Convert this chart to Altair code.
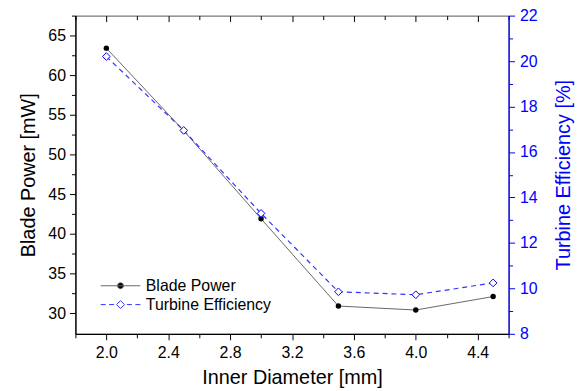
import altair as alt
import pandas as pd

# ---- data ----
diameter = [2.0, 2.5, 3.0, 3.5, 4.0, 4.5]
blade_power = [63.4, 53.0, 41.9, 30.9, 30.4, 32.1]
efficiency = [20.2, 16.95, 13.3, 9.85, 9.72, 10.24]
series_names = ["Blade Power", "Turbine Efficiency"]

x_major = [2.0, 2.4, 2.8, 3.2, 3.6, 4.0, 4.4]
x_minor = [1.8, 2.2, 2.6, 3.0, 3.4, 3.8, 4.2, 4.6]
left_major = [30, 35, 40, 45, 50, 55, 60, 65]
left_minor = [32.5, 37.5, 42.5, 47.5, 52.5, 57.5, 62.5, 67.5]
right_major = [8, 10, 12, 14, 16, 18, 20, 22]
right_minor = [9, 11, 13, 15, 17, 19, 21]

df = pd.DataFrame({"d": diameter, "p": blade_power, "e": efficiency})
df_b = df.assign(series=series_names[0])
df_e = df.assign(series=series_names[1])

FONT = "Liberation Sans"
BLUE = "#0000ff"
LINE_BLUE = "#3333ff"
GRAY = "#666666"

xscale = alt.Scale(domain=[1.8, 4.6], nice=False, zero=False)
yl = alt.Scale(domain=[27.4, 67.5], nice=False, zero=False)
yr = alt.Scale(domain=[8, 22], nice=False, zero=False)

MAJ = 6
MIN = 4

# ---- axes ----
x_bottom_major = alt.Axis(orient="bottom", values=x_major, format=".1f", tickSize=MAJ, tickWidth=1,
                          labelFont=FONT, labelFontSize=16, labelColor="black", labelPadding=5,
                          labelFlush=False, labelOverlap=False,
                          title="Inner Diameter [mm]", titleFont=FONT, titleFontSize=20,
                          titleFontWeight="normal", titleColor="black", titlePadding=7,
                          domainColor="black", domainWidth=1.3, tickColor="black", grid=False)
x_bottom_minor = alt.Axis(orient="bottom", values=x_minor, tickSize=MIN, tickWidth=1, labels=False,
                          title=None, domain=False, tickColor="black", grid=False)
x_top_major = alt.Axis(orient="top", values=x_major, tickSize=MAJ, tickWidth=1, offset=-MAJ, labels=False,
                       domain=False, title=None, tickColor="black", grid=False)
x_top_minor = alt.Axis(orient="top", values=x_minor, tickSize=MIN, tickWidth=1, offset=-MIN, labels=False,
                       domain=False, title=None, tickColor="black", grid=False)

y_left_major = alt.Axis(orient="left", values=left_major, format="d", tickSize=MAJ, tickWidth=1,
                        labelFont=FONT, labelFontSize=16, labelColor="black", labelPadding=4,
                        labelFlush=False, labelOverlap=False,
                        title="Blade Power [mW]", titleFont=FONT, titleFontSize=20,
                        titleFontWeight="normal", titleColor="black", titlePadding=9,
                        domainColor="black", domainWidth=1.3, tickColor="black", grid=False)
y_left_minor = alt.Axis(orient="left", values=left_minor, tickSize=MIN, tickWidth=1, labels=False,
                        title=None, domain=False, tickColor="black", grid=False)
y_right_major = alt.Axis(orient="right", values=right_major, format="d", tickSize=MAJ, tickWidth=1,
                         labelFont=FONT, labelFontSize=16, labelColor=BLUE, labelPadding=5,
                         labelFlush=False, labelOverlap=False,
                         title="Turbine Efficiency [%]", titleFont=FONT, titleFontSize=20,
                         titleFontWeight="normal", titleColor=BLUE, titlePadding=17,
                         titleAngle=270, titleBaseline="top",
                         domainColor=BLUE, domainWidth=1.3, tickColor=BLUE, grid=False)
y_right_minor = alt.Axis(orient="right", values=right_minor, tickSize=MIN, tickWidth=1, labels=False,
                         title=None, domain=False, tickColor=BLUE, grid=False)

# ---- legend (symbols: line + marker drawn as custom paths) ----
bp_path = "M-2,0H2M0.3,0A0.3,0.3 0 1,1 -0.3,0A0.3,0.3 0 1,1 0.3,0Z"
ef_path = "M-2,0H-1.5M-1.15,0H-0.65M-0.4,0L0,-0.4L0.4,0L0,0.4ZM0.65,0H1.15M1.5,0H2"
legend = alt.Legend(
    title=None, orient="none", legendX=35, legendY=262, padding=0,
    labelFont=FONT, labelFontSize=16, labelColor="black", labelOffset=15,
    symbolSize=400, rowPadding=-1, symbolStrokeWidth=1, symbolOpacity=1,
)

blade_line = alt.Chart(df_b).mark_line(strokeWidth=1, color=GRAY).encode(
    x=alt.X("d:Q", scale=xscale, axis=x_bottom_major),
    y=alt.Y("p:Q", scale=yl, axis=y_left_major),
)
blade_pts = alt.Chart(df_b).mark_circle(color="black", size=30, opacity=1).encode(
    x=alt.X("d:Q", scale=xscale, axis=x_bottom_minor),
    y=alt.Y("p:Q", scale=yl, axis=y_left_minor),
)
# zero-size layer that only carries the legend
legend_layer = alt.Chart(df_b).mark_point(filled=True, opacity=1).encode(
    x=alt.X("d:Q", scale=xscale, axis=None),
    y=alt.Y("p:Q", scale=yl, axis=None),
    fill=alt.Fill("series:N", scale=alt.Scale(domain=series_names, range=["black", "white"]), legend=legend),
    stroke=alt.Stroke("series:N", scale=alt.Scale(domain=series_names, range=[GRAY, LINE_BLUE]), legend=legend),
    shape=alt.Shape("series:N", scale=alt.Scale(domain=series_names, range=[bp_path, ef_path]), legend=legend),
    size=alt.value(0),
)
eff_line = alt.Chart(df_e).mark_line(strokeWidth=1.2, strokeDash=[5, 4], color=LINE_BLUE).encode(
    x=alt.X("d:Q", scale=xscale, axis=x_top_major),
    y=alt.Y("e:Q", scale=yr, axis=y_right_major),
)
eff_pts = alt.Chart(df_e).mark_point(shape="diamond", filled=True, fill="white", stroke=BLUE,
                                     strokeWidth=1, size=60, opacity=1).encode(
    x=alt.X("d:Q", scale=xscale, axis=x_top_minor),
    y=alt.Y("e:Q", scale=yr, axis=y_right_minor),
)

blade = alt.layer(blade_line, blade_pts, legend_layer).resolve_axis(x="independent", y="independent")
eff = alt.layer(eff_line, eff_pts).resolve_axis(x="independent", y="independent")

chart = (
    alt.layer(blade, eff)
    .resolve_scale(y="independent")
    .resolve_axis(x="independent", y="independent")
    .properties(width=437, height=321, autosize=alt.AutoSizeParams(type="none"),
                padding={"left": 68, "top": 6, "right": 70, "bottom": 58})
    .configure_view(stroke="#555555", strokeWidth=1)
)

chart.save("out.html", embed_options={"renderer": "svg", "actions": False})
